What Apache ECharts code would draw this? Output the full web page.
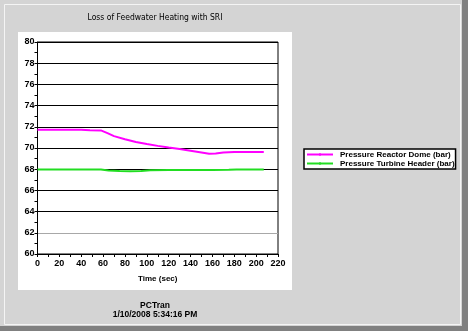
<!DOCTYPE html>
<html><head><meta charset="utf-8">
<script src="https://cdn.jsdelivr.net/npm/echarts@6/dist/echarts.min.js"></script>
<style>html,body{margin:0;padding:0;background:#d4d4d4;}#c{width:468px;height:331px;}</style>
</head><body><div id="c"></div>
<script>
const titleText = 'Loss of Feedwater Heating with SRI';
const xName = 'Time (sec)';
const footer1 = 'PCTran';
const footer2 = '1/10/2008 5:34:16 PM';
const seriesNames = ['Pressure Reactor Dome (bar)', 'Pressure Turbine Header (bar)'];
const timeDome = [0, 10, 20, 30, 40, 48, 58, 64, 70, 80, 90, 100, 110, 120, 130, 140, 150, 157, 163, 170, 180, 190, 200, 207];
const valDome = [71.72, 71.72, 71.72, 71.72, 71.72, 71.68, 71.66, 71.4, 71.12, 70.82, 70.57, 70.37, 70.2, 70.04, 69.9, 69.74, 69.58, 69.46, 69.48, 69.58, 69.62, 69.63, 69.63, 69.63];
const timeTurb = [0, 20, 40, 58, 65, 75, 85, 95, 103, 120, 140, 160, 175, 182, 207];
const valTurb = [67.98, 67.98, 67.98, 67.98, 67.88, 67.82, 67.8, 67.82, 67.9, 67.93, 67.93, 67.93, 67.95, 67.98, 67.98];
const yMin = 60, yMax = 80, yStep = 2;
const xMin = 0, xMax = 220, xStep = 20;

const chart = echarts.init(document.getElementById('c'));
const font = 'Liberation Sans, Arial, sans-serif';
const narrow = 'Liberation Sans Narrow, Arial Narrow, DejaVu Sans Condensed, sans-serif';
const zip = (a, b) => a.map((v, i) => [v, b[i]]);
const splitColors = [];
for (let v = yMin; v <= yMax; v += yStep) splitColors.push(v === 62 ? '#a8a8a8' : '#000');

chart.setOption({
  backgroundColor: '#d4d4d4',
  animation: false,
  graphic: [
    {type: 'rect', shape: {x: 462, y: 0, width: 6, height: 331}, style: {fill: '#808080'}, silent: true},
    {type: 'rect', shape: {x: 0, y: 326, width: 468, height: 5}, style: {fill: '#808080'}, silent: true},
    {type: 'rect', shape: {x: 4.5, y: 4.5, width: 456, height: 320}, style: {fill: 'none', stroke: '#f4f4f4', lineWidth: 1}, silent: true},
    {type: 'rect', shape: {x: 18, y: 32, width: 274, height: 258}, style: {fill: '#fff'}, silent: true, z: -1},
    {type: 'text', x: 155, y: 13, style: {text: titleText, font: '8.5px ' + narrow, fill: '#000', align: 'center'}, silent: true},
    {type: 'text', x: 155, y: 301, style: {text: footer1 + '\n' + footer2, font: 'bold 8.5px ' + font, fill: '#000', align: 'center', lineHeight: 9}, silent: true}
  ],
  grid: {left: 37.5, right: 190, top: 42, bottom: 77, show: true, borderColor: '#000', borderWidth: 1, backgroundColor: 'transparent'},
  legend: {
    orient: 'vertical', left: 304, top: 149, padding: [1, 1, 1, 2], itemGap: 0,
    itemWidth: 26, itemHeight: 3, backgroundColor: '#fff', borderColor: '#000', borderWidth: 1.5,
    textStyle: {fontFamily: font, fontSize: 8, fontWeight: 'bold', color: '#000', padding: [0, 0, 0, 2], lineHeight: 9},
    data: seriesNames
  },
  xAxis: {
    type: 'value', min: xMin, max: xMax, interval: xStep,
    name: xName, nameLocation: 'middle', nameGap: 21,
    nameTextStyle: {fontFamily: font, fontSize: 8, fontWeight: 'bold', color: '#000'},
    axisLine: {lineStyle: {color: '#000', width: 1}},
    axisTick: {show: true, length: 3, lineStyle: {color: '#000'}},
    minorTick: {show: true, splitNumber: 2, length: 3, lineStyle: {color: '#000'}},
    axisLabel: {fontFamily: font, fontSize: 9, fontWeight: 'bold', color: '#000', margin: 5},
    splitLine: {show: false}
  },
  yAxis: {
    type: 'value', min: yMin, max: yMax, interval: yStep,
    axisLine: {show: true, lineStyle: {color: '#000', width: 1}},
    axisTick: {show: true, length: 3, lineStyle: {color: '#000'}},
    minorTick: {show: true, splitNumber: 2, length: 3, lineStyle: {color: '#000'}},
    axisLabel: {fontFamily: font, fontSize: 9, fontWeight: 'bold', color: '#000', margin: 3},
    splitLine: {show: true, lineStyle: {color: splitColors, width: 1}}
  },
  series: [
    {name: seriesNames[0], type: 'line', data: zip(timeDome, valDome), symbol: 'circle', symbolSize: 3, showSymbol: false,
     itemStyle: {color: '#ff00ff'}, lineStyle: {color: '#ff00ff', width: 2}},
    {name: seriesNames[1], type: 'line', data: zip(timeTurb, valTurb), symbol: 'circle', symbolSize: 3, showSymbol: false,
     itemStyle: {color: '#22dd22'}, lineStyle: {color: '#22dd22', width: 2}}
  ]
});
</script></body></html>
